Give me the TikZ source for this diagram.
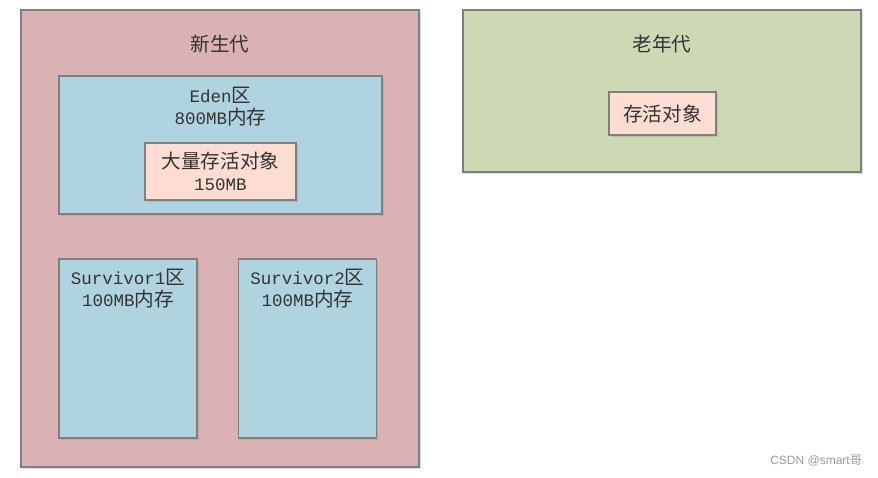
\documentclass[tikz,border=0pt]{standalone}
\usepackage{fontspec}
\setmainfont{Liberation Mono}
\newfontfamily\cjk[Scale=1.12]{Noto Sans CJK SC}
\newfontfamily\wmcjk{Noto Sans CJK SC}
\newfontfamily\wmfont{Liberation Sans}
\usetikzlibrary{shadows}
\newcommand{\zh}[1]{{\cjk #1}}
\definecolor{younggen}{HTML}{DBB2B4}
\definecolor{oldgen}{HTML}{CDD9B4}
\definecolor{edenblue}{HTML}{AFD3DF}
\definecolor{objpeach}{HTML}{FDDCD2}
\definecolor{boxline}{HTML}{7F7F7F}
\definecolor{txt}{HTML}{333333}
\begin{document}
\begin{tikzpicture}[
    x=1pt, y=-1pt,
    mem box/.style={
        draw=boxline,
        line width=1.2pt,
        inner sep=0pt,
        drop shadow={shadow xshift=1.5pt, shadow yshift=-1.5pt, opacity=0.25}
    },
    mem text/.style={
        text=txt,
        font=\fontsize{17.5}{22}\selectfont,
        align=center,
        inner sep=0pt
    }
]
    \useasboundingbox (0,0) rectangle (878,477);

    % Generationen
    \node[mem box, fill=younggen, minimum width=398pt, minimum height=457pt]
        (young) at (220,238.5) {};
    \node[mem box, fill=oldgen, minimum width=398pt, minimum height=162pt]
        (old) at (662,91) {};
    \node[mem text] (younglabel) at (220,44) {\zh{新生代}};
    \node[mem text] (oldlabel) at (662,44) {\zh{老年代}};

    % Eden und Survivor
    \node[mem box, fill=edenblue, minimum width=323pt, minimum height=138pt]
        (eden) at (220.5,145) {};
    \node[mem text] (edenlabel) at (220.5,107) {Eden\zh{区}\\800MB\zh{内存}};
    \node[mem box, fill=objpeach, minimum width=151pt, minimum height=57pt,
        mem text] (bigobj) at (220.5,171.5) {\zh{大量存活对象}\\150MB};

    \foreach \idx/\xpos in {1/128,2/307.5} {
        \node[mem box, fill=edenblue, minimum width=138pt, minimum height=179pt]
            (surv\idx) at (\xpos,348.5) {};
        \node[mem text] (survlabel\idx) at (\xpos,288.5)
            {Survivor\idx\zh{区}\\100MB\zh{内存}};
    }

    % Alte Objekte
    \node[mem box, fill=objpeach, minimum width=107pt, minimum height=43pt,
        mem text] (liveobj) at (662.5,113.5) {\zh{存活对象}};

    \node[text=black!40, font=\wmfont\fontsize{12}{14}\selectfont, anchor=east,
        inner sep=0pt] (mark) at (862,461) {CSDN @smart{\wmcjk 哥}};
\end{tikzpicture}
\end{document}
